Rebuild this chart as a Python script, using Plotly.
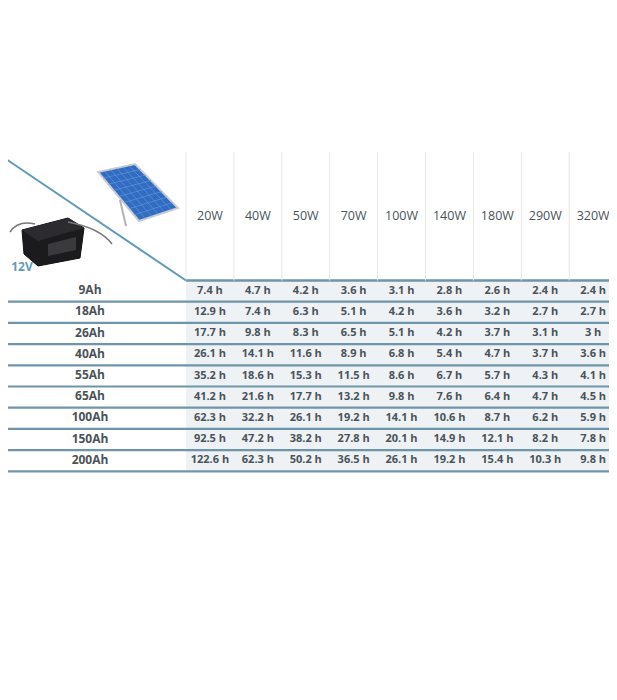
import plotly.graph_objects as go

watts = ["20W", "40W", "50W", "70W", "100W", "140W", "180W", "290W", "320W"]
capacities = ["9Ah", "18Ah", "26Ah", "40Ah", "55Ah", "65Ah", "100Ah", "150Ah", "200Ah"]
hours = [
    ["7.4 h", "4.7 h", "4.2 h", "3.6 h", "3.1 h", "2.8 h", "2.6 h", "2.4 h", "2.4 h"],
    ["12.9 h", "7.4 h", "6.3 h", "5.1 h", "4.2 h", "3.6 h", "3.2 h", "2.7 h", "2.7 h"],
    ["17.7 h", "9.8 h", "8.3 h", "6.5 h", "5.1 h", "4.2 h", "3.7 h", "3.1 h", "3 h"],
    ["26.1 h", "14.1 h", "11.6 h", "8.9 h", "6.8 h", "5.4 h", "4.7 h", "3.7 h", "3.6 h"],
    ["35.2 h", "18.6 h", "15.3 h", "11.5 h", "8.6 h", "6.7 h", "5.7 h", "4.3 h", "4.1 h"],
    ["41.2 h", "21.6 h", "17.7 h", "13.2 h", "9.8 h", "7.6 h", "6.4 h", "4.7 h", "4.5 h"],
    ["62.3 h", "32.2 h", "26.1 h", "19.2 h", "14.1 h", "10.6 h", "8.7 h", "6.2 h", "5.9 h"],
    ["92.5 h", "47.2 h", "38.2 h", "27.8 h", "20.1 h", "14.9 h", "12.1 h", "8.2 h", "7.8 h"],
    ["122.6 h", "62.3 h", "50.2 h", "36.5 h", "26.1 h", "19.2 h", "15.4 h", "10.3 h", "9.8 h"],
]
voltage = "12V"

# layout geometry (pixels of the browser window)
X0, CW = 186, 47.9
Y0, RH = 280.5, 21.2
TEXT = "#4a5359"
LINE = "#6f95aa"
FONT = "Open Sans"
OFF = 8  # default page body margin

shapes = []
for i in range(len(capacities)):
    y1 = Y0 + i * RH
    shapes.append(dict(type="rect", x0=X0, x1=617, y0=y1, y1=y1 + RH, fillcolor="#eef2f5", line_width=0, layer="below"))
    shapes.append(dict(type="line", x0=0, x1=617, y0=y1 + RH, y1=y1 + RH, line=dict(color=LINE, width=2.2)))
shapes.append(dict(type="line", x0=X0, x1=617, y0=Y0, y1=Y0, line=dict(color=LINE, width=2.5)))
for j in range(len(watts) + 1):
    x = X0 + j * CW
    shapes.append(dict(type="line", x0=x, x1=x, y0=152, y1=Y0, line=dict(color="#e4e8ea", width=1)))
shapes.append(dict(type="line", x0=0, x1=X0, y0=155, y1=Y0, line=dict(color="#5f9bb6", width=2)))
# solar panel
shapes.append(dict(type="path", path="M 98 172 L 135 164 L 178 208 L 139 221 Z", fillcolor="#2f6cc2", line=dict(color="#c9ccd0", width=2)))
for k in range(1, 6):
    t = k / 6
    shapes.append(dict(type="line", x0=98 + 37 * t, y0=172 - 8 * t, x1=139 + 39 * t, y1=221 - 13 * t, line=dict(color="#6c98dd", width=0.6)))
for k in range(1, 8):
    t = k / 8
    shapes.append(dict(type="line", x0=98 + 41 * t, y0=172 + 49 * t, x1=135 + 43 * t, y1=164 + 44 * t, line=dict(color="#6c98dd", width=0.6)))
shapes.append(dict(type="line", x0=120, y0=200, x1=126, y1=226, line=dict(color="#b0b4b8", width=2)))
# battery
shapes.append(dict(type="path", path="M 22 230 L 68 218 L 84 228 L 80 258 L 38 266 L 24 254 Z", fillcolor="#1b1b1e", line=dict(color="#111", width=1)))
shapes.append(dict(type="path", path="M 22 230 L 68 218 L 84 228 L 38 241 Z", fillcolor="#2c2c30", line_width=0))
shapes.append(dict(type="path", path="M 10 232 Q 18 220 35 224 M 68 222 Q 100 228 112 244", line=dict(color="#777", width=1.5)))
shapes.append(dict(type="path", path="M 48 244 L 76 237 L 76 250 L 48 256 Z", fillcolor="#3a3a3e", line_width=0))

fig = go.Figure()
fig.add_trace(go.Scatter(
    x=[X0 + (j + 0.5) * CW for j in range(len(watts))], y=[217] * len(watts),
    text=watts, mode="text", textfont=dict(family=FONT, size=12.5, color=TEXT), hoverinfo="skip"))
fig.add_trace(go.Scatter(
    x=[90] * len(capacities), y=[Y0 + (i + 0.5) * RH for i in range(len(capacities))],
    text=capacities, mode="text", textfont=dict(family=FONT, size=12, color=TEXT, weight="bold"), hoverinfo="skip"))
xs, ys, ts = [], [], []
for i, row in enumerate(hours):
    for j, v in enumerate(row):
        xs.append(X0 + (j + 0.5) * CW)
        ys.append(Y0 + (i + 0.5) * RH)
        ts.append(v)
fig.add_trace(go.Scatter(x=xs, y=ys, text=ts, mode="text",
                         textfont=dict(family=FONT, size=11, color=TEXT, weight="bold"), hoverinfo="skip"))
fig.add_trace(go.Scatter(x=[22], y=[268], text=[voltage], mode="text",
                         textfont=dict(family=FONT, size=12, color="#5f9bb6", weight="bold"), hoverinfo="skip"))

fig.update_layout(
    width=617 - OFF, height=700 - OFF, margin=dict(l=0, r=0, t=0, b=0),
    paper_bgcolor="white", plot_bgcolor="white", showlegend=False, shapes=shapes,
    xaxis=dict(range=[OFF, 617], visible=False, fixedrange=True),
    yaxis=dict(range=[700, OFF], visible=False, fixedrange=True),
)
fig.write_html("out.html")
